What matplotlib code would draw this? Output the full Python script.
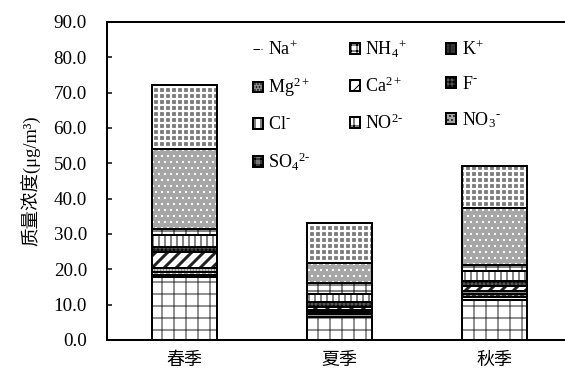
import matplotlib
matplotlib.use('Agg')
import matplotlib.pyplot as plt
import numpy as np
from matplotlib.patches import Patch
from matplotlib.lines import Line2D

plt.rcParams['font.family'] = ['Liberation Serif', 'Noto Sans CJK SC']
plt.rcParams['mathtext.fontset'] = 'custom'
plt.rcParams['mathtext.rm'] = 'Liberation Serif'
plt.rcParams['mathtext.it'] = 'Liberation Serif'
plt.rcParams['hatch.linewidth'] = 1.0

seasons = ['春季', '夏季', '秋季']

# ion concentrations per season (spring, summer, autumn), ug/m3
na = [0.8, 0.7, 0.8]
nh4 = [17.7, 6.6, 11.3]
k = [0.8, 0.6, 0.9]
mg = [1.0, 0.6, 0.8]
ca = [4.7, 0.9, 1.6]
f = [1.3, 1.3, 1.2]
cl = [3.5, 2.4, 2.8]
no2 = [1.5, 2.9, 1.7]
no3 = [22.7, 5.7, 16.2]
so4 = [18.3, 11.3, 11.9]

hy = '\u2010'
labels = ['Na$^{+}$', 'NH$_{4}$$^{+}$', 'K$^{+}$', 'Mg$^{2+}$', 'Ca$^{2+}$',
          'F$^{' + hy + '}$', 'Cl$^{' + hy + '}$', 'NO$^{2' + hy + '}$',
          'NO$_{3}$$^{' + hy + '}$', 'SO$_{4}$$^{2' + hy + '}$']
values = [na, nh4, k, mg, ca, f, cl, no2, no3, so4]
# style per ion: facecolor, hatch, hatch colour, hatch width, legend hatch
styles = [
    ('white', '--', '#333333', 1.0, '--'),
    ('white', '+', '#555555', 1.3, '++'),
    ('#333333', '++', 'white', 1.0, '+'),
    ('#8a8a8a', '....', 'white', 1.0, '....'),
    ('white', '//', '#222222', 3.0, '//'),
    ('#555555', '+++', '#111111', 1.0, '+++'),
    ('white', '||', '#444444', 1.3, '||'),
    ('white', '--|', '#444444', 1.3, '-|'),
    ('#a6a6a6', '..', 'white', 1.0, '...'),
    ('#7a7a7a', '++', 'white', 2.2, '++'),
]
# stacking order from the bottom
stack = [1, 0, 2, 3, 4, 5, 6, 7, 8, 9]

fig = plt.figure(figsize=(565 / 72, 379 / 72), dpi=72)
ax = fig.add_axes([107 / 565, 1 - 340 / 379, 465 / 565, 318 / 379])

x = np.arange(len(seasons))
w = 0.425
bottom = np.zeros(len(seasons))
for i in stack:
    fc, h, hc, hw, lh = styles[i]
    v = np.array(values[i])
    bars = ax.bar(x, v, w, bottom=bottom, color=fc, hatch=h, edgecolor=hc, linewidth=0)
    for b in bars:
        try:
            b.set_hatch_linewidth(hw)
        except AttributeError:
            pass
    ax.bar(x, v, w, bottom=bottom, fill=False, edgecolor='black', linewidth=2)
    bottom += v

ax.set_xlim(-0.5, 2.5)
ax.set_ylim(0, 90)
ax.set_yticks(np.arange(0, 91, 10))
ax.yaxis.set_major_formatter(matplotlib.ticker.FormatStrFormatter('%.1f'))
ax.set_xticks(x)
ax.set_xticklabels(seasons)
ax.tick_params(axis='y', direction='in', length=5, width=1.5, labelsize=19, pad=20)
ax.tick_params(axis='x', length=0, labelsize=18, pad=12)
for s in ['left', 'top', 'bottom']:
    ax.spines[s].set_linewidth(2)
ax.spines['right'].set_visible(False)
ax.set_ylabel('质量浓度(μg/m³)', fontsize=18.5, labelpad=13)

handles = []
for i, lab in enumerate(labels):
    fc, h, hc, hw, lh = styles[i]
    if i == 0:
        handles.append(Line2D([], [], color='black', linestyle='-.', linewidth=1))
    else:
        handles.append(Patch(facecolor=fc, hatch=lh, edgecolor='black', linewidth=2))

# legend fills column by column, reorder so rows read Na, NH4, K / Mg, Ca, F / ...
order = [0, 3, 6, 9, 1, 4, 7, 2, 5, 8]
ax.legend([handles[i] for i in order], [labels[i] for i in order], ncol=3,
          frameon=False, fontsize=18,
          loc='upper left', bbox_to_anchor=(0.279, 1.0),
          handlelength=0.55, handleheight=0.55, handletextpad=0.3,
          columnspacing=2.2, labelspacing=0.95)

fig.savefig('out.png', dpi=72)
